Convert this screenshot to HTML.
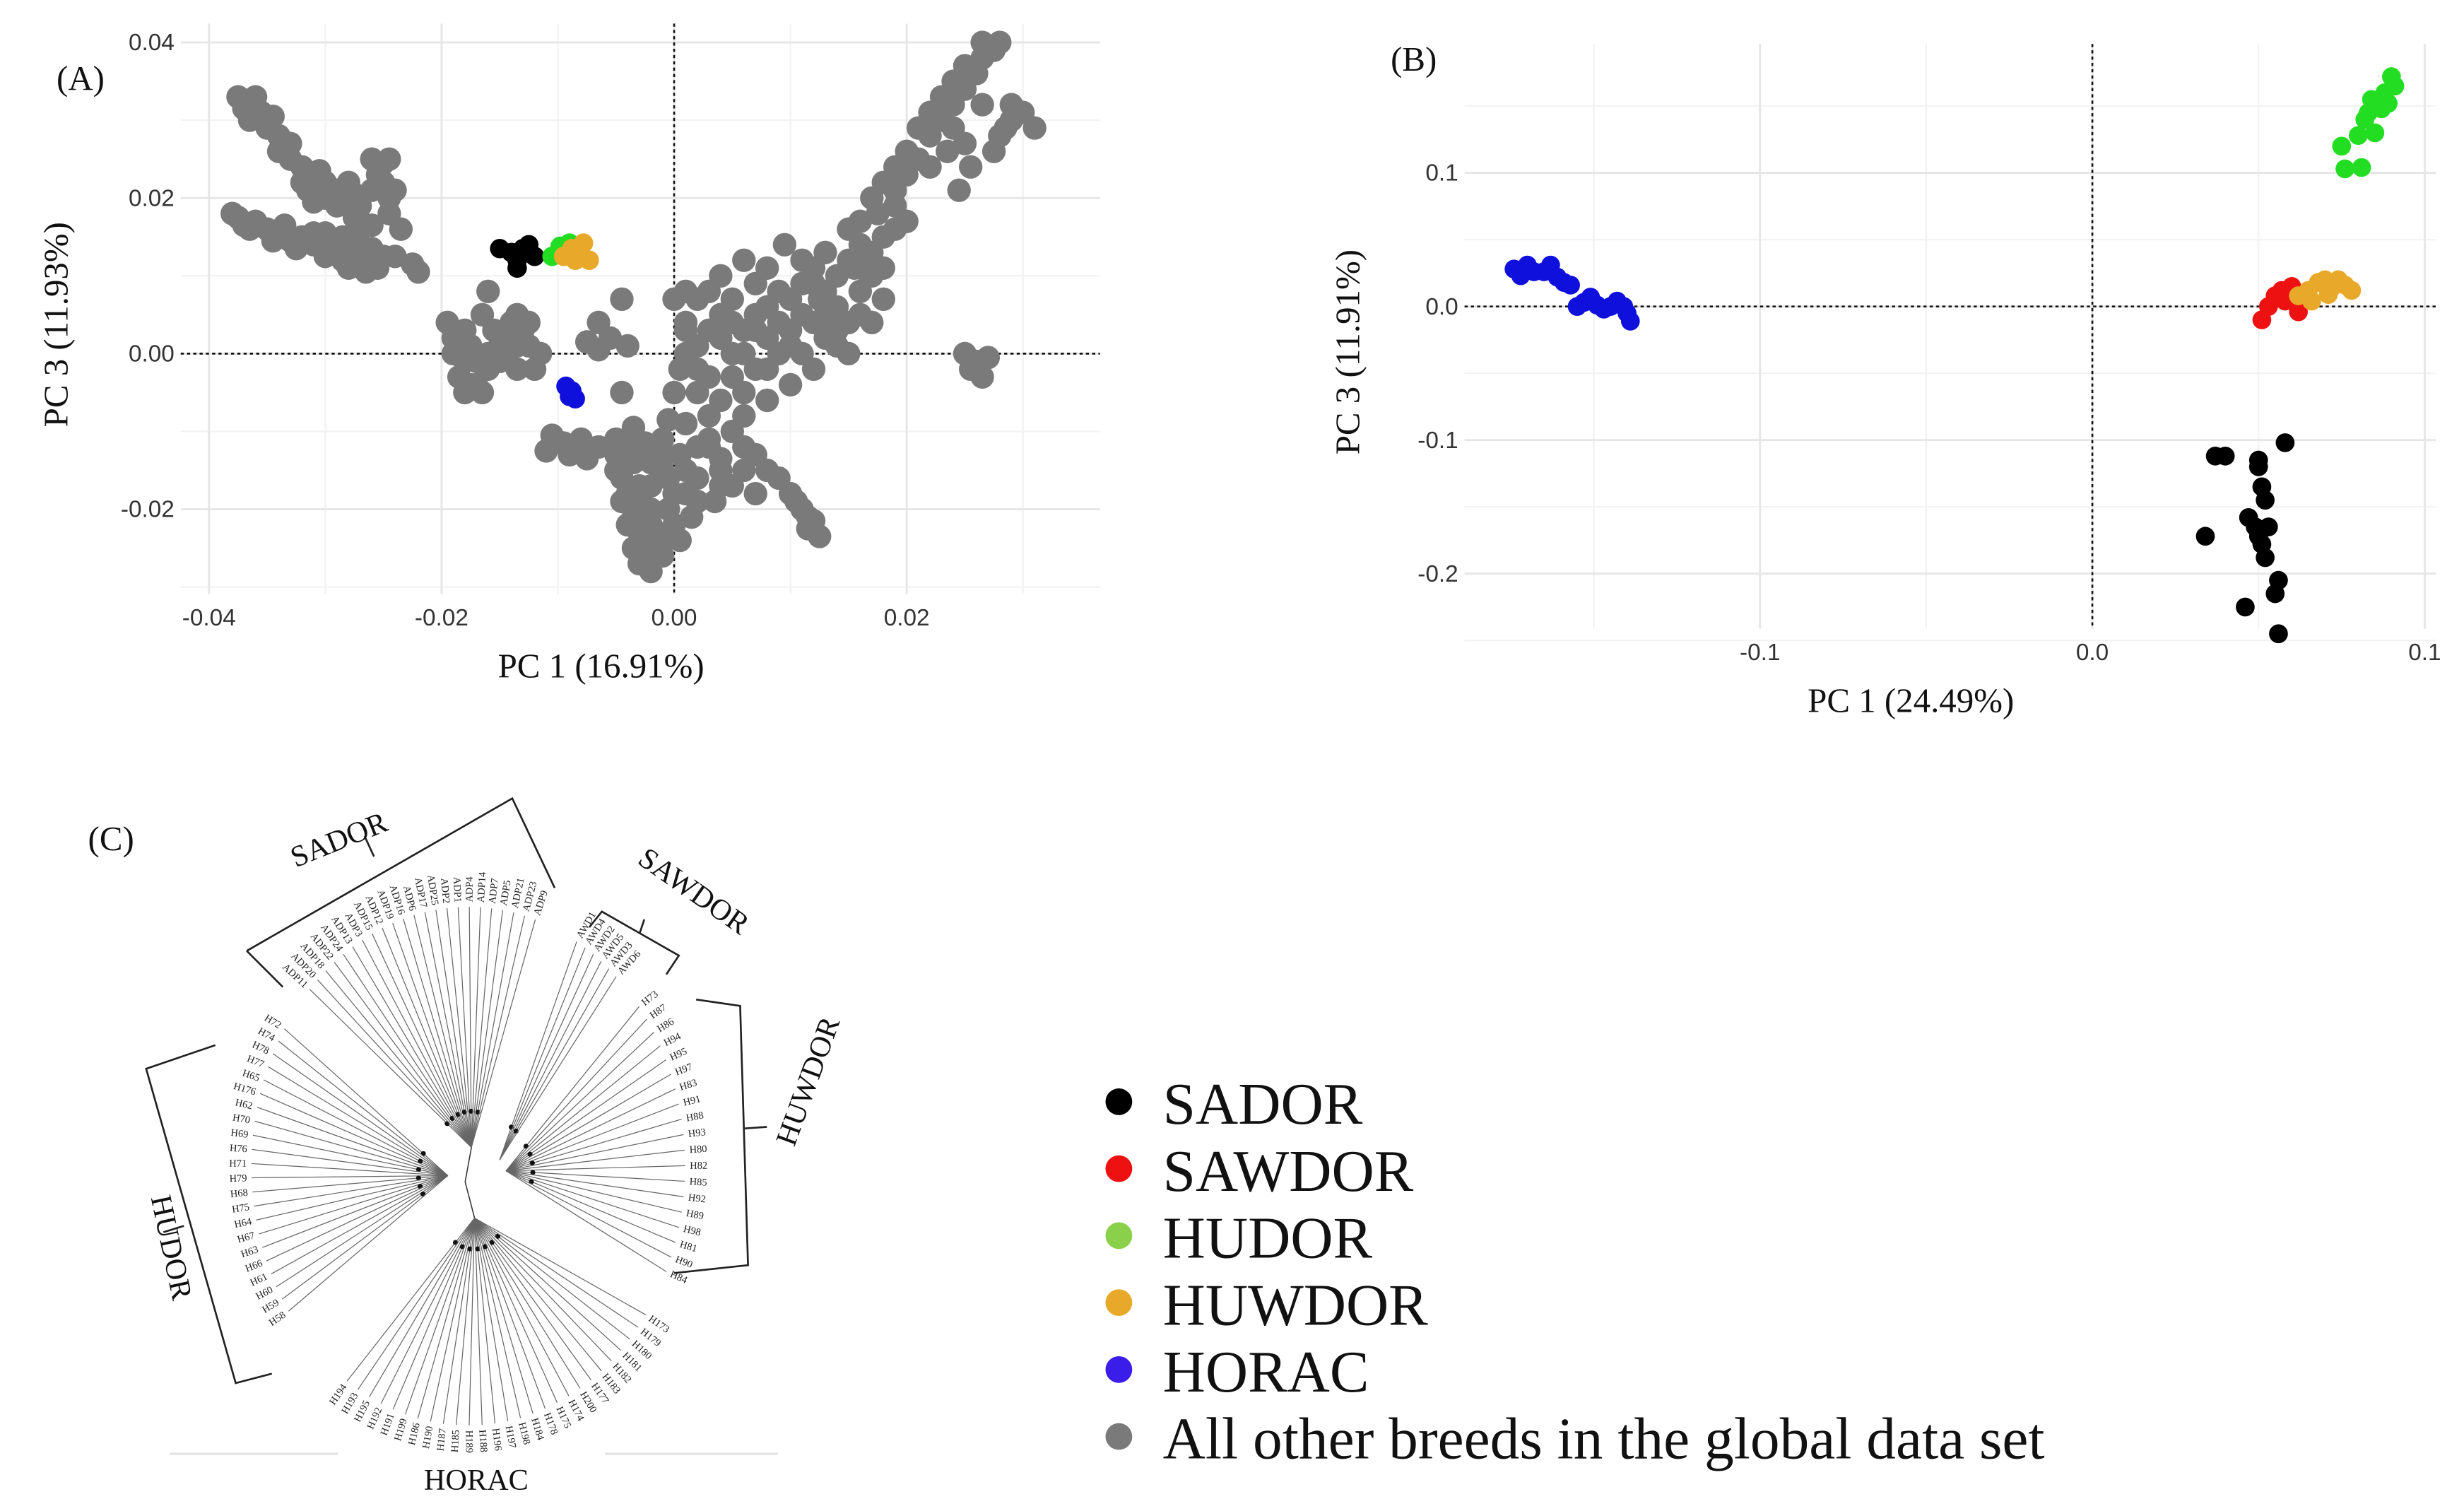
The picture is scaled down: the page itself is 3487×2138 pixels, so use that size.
<!DOCTYPE html>
<html><head><meta charset="utf-8"><style>
html,body{margin:0;padding:0;background:#fff;}
svg{display:block;}
.tick{font-family:"Liberation Sans",sans-serif;font-size:15px;fill:#333;}
.ttl{font-family:"Liberation Serif",serif;font-size:22px;fill:#111;}
.leg{font-family:"Liberation Serif",serif;font-size:37.5px;fill:#111;}
.lab{font-family:"Liberation Serif",serif;font-size:6.5px;fill:#222;}
.grp{font-family:"Liberation Serif",serif;font-size:19px;fill:#111;}
</style></head><body>
<svg id="fig" width="3487" height="2138" viewBox="0 0 1568 961.4" xmlns="http://www.w3.org/2000/svg">
<rect width="1568" height="961.4" fill="#fff"/>
<g id="pa"></g>
<g id="pb"></g>
<g id="pc"></g>
<g id="lg"></g>
</svg>
<script>
const NS="http://www.w3.org/2000/svg";
function mk(p,t,a){const e=document.createElementNS(NS,t);for(const k in a)e.setAttribute(k,a[k]);p.appendChild(e);return e;}

// ---------- Panel A data ----------
const aXTicks=[-0.04,-0.02,0.00,0.02];
const aXTickLabels=["-0.04","-0.02","0.00","0.02"];
const aYTicks=[0.04,0.02,0.00,-0.02];
const aYTickLabels=["0.04","0.02","0.00","-0.02"];
const aGray=[[-0.0375,0.033],[-0.037,0.0315],[-0.036,0.033],[-0.0355,0.031],[-0.035,0.029],[-0.034,0.028],[-0.0335,0.0265],[-0.033,0.025],[-0.032,0.024],[-0.031,0.023],[-0.0315,0.021],[-0.03,0.022],[-0.029,0.021],[-0.028,0.022],[-0.0275,0.0205],[-0.027,0.019],[-0.0255,0.023],[-0.0245,0.025],[-0.025,0.022],[-0.024,0.021],[-0.0245,0.018],[-0.0235,0.016],[-0.031,0.0195],[-0.029,0.019],[-0.0275,0.0175],[-0.026,0.0165],
[-0.038,0.018],[-0.037,0.0165],[-0.036,0.017],[-0.035,0.016],[-0.034,0.0155],[-0.033,0.0145],[-0.032,0.015],[-0.031,0.014],[-0.030,0.0155],[-0.029,0.0145],[-0.028,0.0135],[-0.0275,0.015],[-0.027,0.0125],[-0.026,0.0135],[-0.0255,0.011],[-0.0265,0.0105],[-0.024,0.0125],[-0.0225,0.0115],[-0.022,0.0105],[-0.0285,0.012],[-0.030,0.0125],
[-0.0365,0.030],[-0.0345,0.0305],[-0.034,0.026],[-0.033,0.027],[-0.032,0.022],[-0.0305,0.0235],[-0.03,0.020],[-0.028,0.0195],[-0.026,0.021],[-0.025,0.0245],[-0.026,0.025],[-0.0245,0.02],[-0.0375,0.0175],[-0.0365,0.016],[-0.0345,0.0145],[-0.0325,0.0135],[-0.031,0.0155],[-0.0295,0.0135],[-0.0285,0.015],[-0.027,0.014],[-0.026,0.0115],[-0.025,0.0125],[-0.0335,0.0165],[-0.028,0.011],
[-0.0195,0.004],[-0.019,0.002],[-0.018,0.003],[-0.0175,0.001],[-0.017,-0.001],[-0.0185,-0.003],[-0.017,-0.004],[-0.016,-0.002],[-0.015,0.001],[-0.0145,0.003],[-0.014,0.004],[-0.013,0.003],[-0.0125,0.001],[-0.012,-0.002],[-0.0135,-0.002],[-0.0165,0.005],[-0.0135,0.005],[-0.016,0.008],[-0.0055,0.002],[-0.0065,0.004],[-0.004,0.001],[-0.0045,0.007],[-0.0065,0.0005],[-0.0075,0.0015],[-0.0045,-0.005],
[-0.019,0.0],[-0.018,-0.001],[-0.0175,-0.004],[-0.016,0.0],[-0.0155,0.003],[-0.015,-0.001],[-0.0145,0.0],[-0.0135,0.001],[-0.0125,0.004],[-0.0115,0.0],[-0.0165,-0.005],[-0.018,-0.005],
[-0.0105,-0.0105],[-0.0095,-0.0115],[-0.009,-0.013],[-0.008,-0.011],[-0.0075,-0.0135],[-0.0065,-0.012],[-0.011,-0.0125],
[-0.005,-0.013],[-0.0045,-0.016],[-0.0045,-0.019],[-0.004,-0.022],[-0.0035,-0.025],[-0.003,-0.027],[-0.002,-0.028],[-0.001,-0.026],[-0.0015,-0.023],[-0.002,-0.020],[-0.003,-0.017],[-0.002,-0.014],[-0.001,-0.011],[-0.0005,-0.0085],[0.0,-0.005],[-0.0005,-0.016],[-0.0005,-0.02],[-0.0025,-0.0115],[-0.0035,-0.0095],[0.0005,-0.013],[0.001,-0.018],[0.0015,-0.021],[0.0005,-0.024],[0.002,-0.016],[0.003,-0.012],[0.0035,-0.019],[0.004,-0.015],[-0.0035,-0.021],[-0.0025,-0.024],
[-0.004,-0.012],[-0.005,-0.015],[-0.004,-0.018],[-0.003,-0.019],[-0.002,-0.022],[-0.001,-0.024],[0.0,-0.022],[0.0,-0.018],[-0.001,-0.015],[-0.001,-0.013],[-0.002,-0.017],[-0.003,-0.023],[-0.002,-0.026],[0.001,-0.015],[0.002,-0.012],[0.001,-0.009],[0.002,-0.019],[-0.0035,-0.014],[-0.005,-0.011],
[0.0005,-0.002],[0.002,0.001],[0.003,-0.003],[0.004,0.002],[0.005,0.0],[0.006,0.003],[0.004,-0.006],[0.006,-0.005],[0.007,-0.002],[0.008,0.002],[0.009,0.0],[0.010,0.003],[0.011,0.0],[0.012,0.004],[0.013,0.002],[0.014,0.006],[0.015,0.004],[0.016,0.008],[0.0155,0.011],[0.017,0.010],[0.016,0.014],[0.018,0.015],[0.0175,0.018],[0.019,0.019],[0.020,0.023],[0.021,0.025],[0.022,0.028],[0.023,0.030],[0.024,0.032],[0.025,0.034],[0.026,0.036],[0.0265,0.038],[0.0275,0.039],[0.028,0.040],[0.022,0.024],[0.0235,0.026],[0.025,0.027],[0.0255,0.024],[0.0245,0.021],[0.019,0.021],[0.020,0.017],[0.0095,0.014],[0.008,0.011],[0.006,0.012],[0.004,0.010],[0.002,0.007],[0.001,0.008],[0.005,0.007],[0.007,0.009],[0.011,0.009],[0.0125,0.007],[0.006,-0.008],[0.008,-0.006],[0.010,-0.004],[0.003,-0.008],[0.002,-0.005],[0.012,-0.002],[0.014,0.001],[0.015,0.0],[0.017,0.004],[0.018,0.007],
[0.001,0.0],[0.002,-0.002],[0.003,0.003],[0.005,0.004],[0.006,0.0],[0.007,0.005],[0.008,0.006],[0.009,0.004],[0.010,0.007],[0.011,0.005],[0.012,0.009],[0.013,0.008],[0.014,0.010],[0.015,0.012],[0.016,0.011],[0.017,0.013],[0.015,0.016],[0.016,0.017],[0.017,0.020],[0.018,0.022],[0.019,0.024],[0.020,0.026],[0.021,0.029],[0.022,0.031],[0.023,0.033],[0.024,0.035],[0.025,0.037],[0.0265,0.040],[0.024,0.029],[0.019,0.016],[0.018,0.011],[0.013,0.005],[0.011,0.012],[0.009,0.008],[0.007,0.003],[0.005,-0.003],[0.008,-0.002],[0.004,0.005],[0.001,0.003],[0.003,0.008],[0.0,0.007],[0.001,0.004],[0.012,0.011],[0.013,0.013],[0.016,0.005],[0.014,0.003],[0.010,0.001],
[0.029,0.030],[0.030,0.031],[0.031,0.029],[0.028,0.028],[0.0275,0.026],[0.025,0.0],[0.026,-0.0015],[0.027,-0.0005],[0.0255,-0.002],[0.0265,0.032],[0.029,0.032],[0.0285,0.029],[0.026,-0.001],[0.0265,-0.003],
[0.010,-0.018],[0.011,-0.020],[0.012,-0.0215],[0.0125,-0.0235],[0.0115,-0.0225],[0.004,-0.0135],[0.005,-0.017],[0.007,-0.018],[0.008,-0.015],[0.006,-0.012],[0.0105,-0.019],[0.0115,-0.021],[0.009,-0.016],[0.007,-0.013],[0.005,-0.010],[0.003,-0.011],[0.006,-0.015],[0.004,-0.017]];
const aBlack=[[-0.015,0.0135],[-0.014,0.013],[-0.0135,0.012],[-0.013,0.0135],[-0.012,0.0125],[-0.0135,0.011],[-0.0125,0.014]];
const aGreen=[[-0.0105,0.0125],[-0.0098,0.0138],[-0.009,0.0142]];
const aOrange=[[-0.0095,0.0125],[-0.0088,0.0135],[-0.008,0.0128],[-0.0078,0.0142],[-0.0085,0.012],[-0.0073,0.012]];
const aBlue=[[-0.0093,-0.0042],[-0.0088,-0.0048],[-0.0085,-0.0058],[-0.009,-0.0055]];

// ---------- Panel B data ----------
const bXTicks=[-0.1,0.0,0.1];
const bXTickLabels=["-0.1","0.0","0.1"];
const bYTicks=[0.1,0.0,-0.1,-0.2];
const bYTickLabels=["0.1","0.0","-0.1","-0.2"];
const bBlue=[[-0.174,0.028],[-0.172,0.023],[-0.170,0.031],[-0.168,0.026],[-0.165,0.026],[-0.163,0.031],[-0.161,0.022],[-0.159,0.018],[-0.157,0.016],[-0.155,0.0],[-0.153,0.003],[-0.151,0.007],[-0.149,0.001],[-0.147,-0.002],[-0.145,0.0],[-0.143,0.004],[-0.141,0.0],[-0.140,-0.005],[-0.139,-0.011]];
const bRed=[[0.051,-0.01],[0.053,0.0],[0.055,0.008],[0.057,0.012],[0.06,0.015],[0.062,-0.004],[0.058,0.004]];
const bOrange=[[0.062,0.008],[0.065,0.012],[0.068,0.018],[0.070,0.02],[0.072,0.014],[0.074,0.02],[0.076,0.016],[0.078,0.012],[0.066,0.004],[0.071,0.009]];
const bGreen=[[0.075,0.12],[0.076,0.103],[0.081,0.104],[0.08,0.128],[0.082,0.14],[0.084,0.155],[0.085,0.13],[0.087,0.148],[0.088,0.16],[0.089,0.152],[0.09,0.172],[0.091,0.165],[0.083,0.145]];
const bBlack=[[0.034,-0.172],[0.037,-0.112],[0.040,-0.112],[0.046,-0.225],[0.047,-0.158],[0.049,-0.165],[0.050,-0.115],[0.050,-0.12],[0.051,-0.135],[0.052,-0.145],[0.051,-0.178],[0.052,-0.188],[0.053,-0.165],[0.055,-0.215],[0.056,-0.205],[0.056,-0.245],[0.058,-0.102],[0.050,-0.172]];

// ---------- Dendrogram labels ----------
const cSador=["ADP11","ADP20","ADP18","ADP22","ADP24","ADP13","ADP3","ADP15","ADP12","ADP19","ADP16","ADP6","ADP17","ADP25","ADP2","ADP1","ADP4","ADP14","ADP7","ADP5","ADP21","ADP23","ADP9"];
const cSawdor=["AWD1","AWD4","AWD2","AWD5","AWD3","AWD6"];
const cHuwdor=["H73","H87","H86","H94","H95","H97","H83","H91","H88","H93","H80","H82","H85","H92","H89","H98","H81","H90","H84"];
const cHudor=["H72","H74","H78","H77","H65","H176","H62","H70","H69","H76","H71","H79","H68","H75","H64","H67","H63","H66","H61","H60","H59","H58"];
const cHorac=["H194","H193","H195","H192","H191","H199","H186","H190","H187","H185","H189","H188","H196","H197","H198","H184","H178","H175","H174","H200","H177","H183","H182","H181","H180","H179","H173"];

function scatterPanel(g,cfg){
  const sx=v=>cfg.x0+(v-cfg.xmin)/(cfg.xmax-cfg.xmin)*(cfg.x1-cfg.x0);
  const sy=v=>cfg.y1-(v-cfg.ymin)/(cfg.ymax-cfg.ymin)*(cfg.y1-cfg.y0);
  cfg.xminor.forEach(v=>{const l=mk(g,'line',{x1:sx(v),x2:sx(v),y1:cfg.y0,y2:cfg.y1,stroke:'#f2f2f2','stroke-width':1});
    });
  cfg.yminor.forEach(v=>{const l=mk(g,'line',{x1:cfg.x0,x2:cfg.x1,y1:sy(v),y2:sy(v),stroke:'#f2f2f2','stroke-width':1});
    });
  cfg.xt.forEach((v,i)=>{const l=mk(g,'line',{x1:sx(v),x2:sx(v),y1:cfg.y0,y2:cfg.y1,stroke:'#e6e6e6','stroke-width':1.3});
    
    const t=mk(g,'text',{x:sx(v),y:cfg.y1+20,'text-anchor':'middle',class:'tick'});t.textContent=cfg.xl[i];
    });
  cfg.yt.forEach((v,i)=>{const l=mk(g,'line',{x1:cfg.x0,x2:cfg.x1,y1:sy(v),y2:sy(v),stroke:'#e6e6e6','stroke-width':1.3});
    
    const t=mk(g,'text',{x:cfg.x0-4,y:sy(v)+5,'text-anchor':'end',class:'tick'});t.textContent=cfg.yl[i];
    });
  const zx=mk(g,'line',{x1:sx(0),x2:sx(0),y1:cfg.y0,y2:cfg.y1,stroke:'#111','stroke-width':1.2,'stroke-dasharray':'2 2'});
  
  const zy=mk(g,'line',{x1:cfg.x0,x2:cfg.x1,y1:sy(0),y2:sy(0),stroke:'#111','stroke-width':1.2,'stroke-dasharray':'2 2'});
  
  cfg.series.forEach(s=>{s.pts.forEach(p=>{const c=mk(g,'circle',{cx:sx(p[0]),cy:sy(p[1]),r:s.r||cfg.r,fill:s.col});
    });});
  const tx=mk(g,'text',{x:(cfg.x0+cfg.x1)/2-25,y:cfg.y1+53,'text-anchor':'middle',class:'ttl'});tx.textContent=cfg.xtitle;
  
  const ty=mk(g,'text',{x:0,y:0,'text-anchor':'middle',class:'ttl',transform:`translate(${cfg.ytx},${(cfg.y0+cfg.y1)/2+10}) rotate(-90)`});ty.textContent=cfg.ytitle;
  
  const pl=mk(g,'text',{x:cfg.plx,y:cfg.ply,class:'ttl'});pl.textContent=cfg.panel;
  
}
const GRAY='#7a7a7a',BLACK='#000',GREEN='#22dd22',ORANGE='#e8a92a',BLUE='#1010dd',RED='#ee1111';
scatterPanel(document.getElementById('pa'),{x0:115,x1:700,y0:15,y1:378,xmin:-0.04-18/7400,xmax:-0.04+(700-133)/7400,ymin:-0.02-(378-324)/4950,ymax:0.04+12/4950,
  xt:aXTicks,xl:aXTickLabels,yt:aYTicks,yl:aYTickLabels,xminor:[-0.03,-0.01,0.01,0.03],yminor:[0.03,0.01,-0.01,-0.03],r:6.2,
  series:[{pts:aGray,col:GRAY,name:'point-other-breeds',r:7.5},{pts:aBlack,col:BLACK,name:'point-sador'},{pts:aGreen,col:GREEN,name:'point-hudor'},{pts:aOrange,col:ORANGE,name:'point-huwdor'},{pts:aBlue,col:BLUE,name:'point-horac'}],
  xtitle:'PC 1 (16.91%)',ytitle:'PC 3 (11.93%)',ytx:43,panel:'(A)',plx:36,ply:57});
scatterPanel(document.getElementById('pb'),{x0:932,x1:1550,y0:28,y1:400,xmin:-0.1-(1120-932)/2115,xmax:-0.1+(1550-1120)/2115,ymin:-0.2-(400-365)/850,ymax:0.1+(110-28)/850,
  xt:bXTicks,xl:bXTickLabels,yt:bYTicks,yl:bYTickLabels,xminor:[-0.15,-0.05,0.05],yminor:[0.15,0.05,-0.05,-0.15,-0.25],r:6,
  series:[{pts:bBlue,col:BLUE,name:'point-horac'},{pts:bRed,col:RED,name:'point-sawdor'},{pts:bOrange,col:ORANGE,name:'point-huwdor'},{pts:bGreen,col:GREEN,name:'point-hudor'},{pts:bBlack,col:BLACK,name:'point-sador'}],
  xtitle:'PC 1 (24.49%)',ytitle:'PC 3 (11.91%)',ytx:865,panel:'(B)',plx:885,ply:45});

// ---------- Panel C ----------
(function(){
  const g=document.getElementById('pc');
  const cx=298,cy=742,rx=138,ry=165;
  const groups=[
    {labs:cSador,a0:137,a1:72,hub:[300,730]},
    {labs:cSawdor,a0:60,a1:47,hub:[318,738]},
    {labs:cHuwdor,a0:38,a1:-24,hub:[322,745]},
    {labs:cHudor,a0:148,a1:214,hub:[285,748]},
    {labs:cHorac,a0:236,a1:325,hub:[302,775]}];
  const trunk=mk(g,'polyline',{points:'300,730 296,752 302,775',fill:'none',stroke:'#333','stroke-width':0.7});
  
  groups.forEach(G=>{
    const n=G.labs.length;
    G.labs.forEach((lab,i)=>{
      const a=(G.a0+(G.a1-G.a0)*i/Math.max(1,n-1))*Math.PI/180;
      const ex=cx+rx*Math.cos(a),ey=cy-ry*Math.sin(a);
      const l=mk(g,'line',{x1:G.hub[0],y1:G.hub[1],x2:ex,y2:ey,stroke:'#666','stroke-width':0.55});
      
      if(i%4===0){const d=mk(g,'circle',{cx:G.hub[0]+(ex-G.hub[0])*0.15,cy:G.hub[1]+(ey-G.hub[1])*0.15,r:1.6,fill:'#111'});
      }
      const deg=a*180/Math.PI;const left=Math.cos(a)<0;
      const lx=cx+(rx+3)*Math.cos(a),ly=cy-(ry+3)*Math.sin(a);
      const t=mk(g,'text',{x:0,y:2,class:'lab','text-anchor':left?'end':'start',transform:`translate(${lx},${ly}) rotate(${left?180-deg:-deg})`});
      t.textContent=lab;
    });
  });
  const br=[
    ['157,605 180,628','bracket-sador-end'],['157,605 326,508 353,565','bracket-sador'],['238,545 232,532','bracket-sador-tick'],
    ['375,590 383,580 432,608 424,620','bracket-sawdor'],['407,594 410,585','bracket-sawdor-tick'],
    ['443,636 471,640 476,805 429,810','bracket-huwdor'],['474,718 488,717','bracket-huwdor-tick'],
    ['137,665 93,680 150,880 173,874','bracket-hudor'],['117,780 104,784','bracket-hudor-tick']];
  br.forEach(b=>{const p=mk(g,'polyline',{points:b[0],fill:'none',stroke:'#222','stroke-width':1.2});
    });
  const nm=[['SADOR',218,540,-22],['SAWDOR',438,572,35],['HUWDOR',520,690,-70],['HUDOR',103,795,78],['HORAC',303,948,0]];
  nm.forEach(n=>{const t=mk(g,'text',{x:0,y:0,class:'grp','text-anchor':'middle',transform:`translate(${n[1]},${n[2]}) rotate(${n[3]})`});
    t.textContent=n[0];});
  [[108,215],[385,495]].forEach(s=>{const l=mk(g,'line',{x1:s[0],x2:s[1],y1:925,y2:925,stroke:'#e4e4e4','stroke-width':1.5});
    });
  const pl=mk(g,'text',{x:56,y:541,class:'ttl'});pl.textContent='(C)';
  
})();

// ---------- Legend ----------
const legNames=["SADOR","SAWDOR","HUDOR","HUWDOR","HORAC","All other breeds in the global data set"];
const legCols=[BLACK,RED,'#8ad04a',ORANGE,'#3a1de8',GRAY];
(function(){
  const g=document.getElementById('lg');
  legNames.forEach((n,i)=>{const y=703+i*42.6;
    const e=mk(g,'g',{});
    const c=mk(e,'circle',{cx:712,cy:y-2,r:8.5,fill:legCols[i]});
    const t=mk(e,'text',{x:740,y:y+12,class:'leg'});t.textContent=n;});
})();
</script>
</body></html>
